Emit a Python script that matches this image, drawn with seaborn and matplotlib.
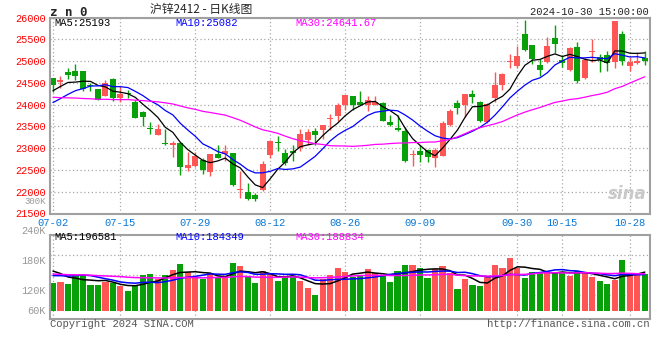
import numpy as np
import pandas as pd
import matplotlib
matplotlib.use("Agg")
import matplotlib.pyplot as plt
import matplotlib.transforms as mtransforms
import seaborn as sns

sns.set_theme(style="white")
plt.rcParams['font.family'] = ['Liberation Mono', 'DejaVu Sans Mono']

# trading days 2024-07-02 .. 2024-10-30 (SHFE holidays removed)
holidays = ['2024-09-16', '2024-09-17', '2024-10-01', '2024-10-02', '2024-10-03',
            '2024-10-04', '2024-10-07']
dates = pd.bdate_range('2024-07-02', '2024-10-30', freq='C', holidays=holidays)

opens = [24610, 24512, 24741, 24779, 24764, 24443, 24352, 24207, 24596, 24154,
         24260, 24062, 23825, 23460, 23315, 23124, 23063, 23116, 22551, 22590,
         22727, 22452, 22856, 22856, 22880, 22032, 22002, 21925, 22040, 22841,
         23154, 22895, 22933, 23009, 23200, 23406, 23429, 23665, 23734, 24001,
         24192, 24062, 24001, 24001, 24039, 23605, 23467, 23391, 22841, 22933,
         22963, 22765, 22818, 23543, 24039, 23986, 24245, 24062, 23605, 24154,
         24444, 24985, 24901, 25634, 25375, 24916, 24993, 25527, 25031, 24787,
         25336, 24611, 25207, 25092, 25145, 24978, 25626, 24901, 24955, 25085]
highs = [24625, 24650, 24840, 24940, 24770, 24497, 24367, 24566, 24611, 24420,
         24340, 24115, 23848, 23605, 23558, 23452, 23162, 23140, 22910, 22918,
         22765, 22856, 23063, 23063, 22895, 22475, 22208, 21978, 22704, 23200,
         23284, 22986, 23085, 23452, 23452, 23467, 23543, 23787, 24039, 24230,
         24207, 24306, 24192, 24192, 24062, 23773, 23773, 23482, 22948, 23063,
         22986, 23009, 23635, 23902, 24116, 24245, 24344, 24093, 24039, 24749,
         24726, 25161, 25359, 25940, 25375, 25046, 25550, 25840, 25145, 25336,
         25436, 25069, 25512, 25161, 25245, 25924, 25695, 25108, 25222, 25237]
lows = [24290, 24382, 24596, 24558, 24320, 24320, 24100, 24192, 24093, 24062,
        24150, 23688, 23520, 23330, 23315, 23085, 22795, 22384, 22475, 22566,
        22414, 22361, 22765, 22704, 22132, 21865, 21811, 21788, 22017, 22780,
        22933, 22613, 22704, 22933, 23070, 23078, 23223, 23429, 23635, 23886,
        23886, 24001, 23848, 23986, 23620, 23505, 23391, 22681, 22590, 22681,
        22681, 22567, 22818, 23513, 23787, 23711, 24039, 23605, 23582, 24062,
        24345, 24840, 24840, 25230, 24932, 24650, 24970, 25199, 24878, 24764,
        24497, 24596, 24993, 24749, 24764, 24855, 24917, 24764, 24932, 24917]
closes = [24443, 24573, 24672, 24650, 24367, 24420, 24115, 24497, 24154, 24253,
          24245, 23688, 23711, 23445, 23452, 23101, 23116, 22566, 22605, 22818,
          22498, 22856, 22765, 22933, 22147, 22040, 21827, 21841, 22627, 23162,
          23131, 22651, 22895, 23337, 23368, 23300, 23543, 23673, 24001, 24215,
          23986, 24001, 24115, 24062, 23620, 23528, 23414, 22704, 22845, 22841,
          22795, 22948, 23582, 23848, 23925, 24245, 24169, 23620, 24016, 24459,
          24703, 24993, 25123, 25253, 25046, 24787, 25352, 25397, 24955, 25298,
          24535, 25031, 25245, 25031, 24955, 25924, 25016, 24993, 25008, 25016]
# closes of the 29 sessions before 07-02 (estimated from where the MA lines start)
prev_closes = [24900, 24800, 24750, 24700, 24600, 24500, 24450, 24368, 24300, 24200,
               24100, 24000, 23900, 23850, 23800, 23900, 23950, 23900, 23850, 23862,
               23650, 23700, 23800, 23900, 23830, 24083, 24212, 24610, 24262]

volumes = [143, 148, 138, 182, 182, 132, 132, 145, 140, 127,
           101, 127, 182, 187, 162, 182, 207, 238, 196, 171,
           160, 194, 167, 177, 244, 228, 177, 143, 202, 194,
           152, 171, 171, 152, 118, 81, 160, 182, 219, 199,
           174, 182, 211, 194, 182, 148, 202, 233, 233, 219,
           168, 213, 229, 191, 111, 162, 132, 128, 177, 233,
           219, 270, 219, 168, 199, 199, 196, 199, 194, 179,
           202, 196, 174, 152, 137, 157, 258, 194, 187, 187]
prev_volumes = [200, 185, 210, 175, 190, 205, 180, 195, 170, 200,
                185, 190, 210, 180, 195, 175, 190, 200, 185, 200,
                150, 160, 155, 160, 155, 210, 225, 212, 220]

tick_dates = ['07-02', '07-15', '07-29', '08-12', '08-26', '09-09', '09-30', '10-15', '10-28']
price_ticks = [21500, 22000, 22500, 23000, 23500, 24000, 24500, 25000, 25500, 26000]
ma_labels = ['MA5:25193', 'MA10:25082', 'MA30:24641.67']
vol_ma_labels = ['MA5:196581', 'MA10:184349', 'MA30:188834']
vol_labels = ['240K', '180K', '120K', '60K']

df = pd.DataFrame({'date': dates, 'open': opens, 'high': highs, 'low': lows,
                   'close': closes, 'volume': np.array(volumes) * 1000})
df['x'] = np.arange(len(df))
n_prev = len(prev_closes)
all_close = pd.Series(prev_closes + closes)
all_vol = pd.Series(prev_volumes + volumes) * 1000
for w in (5, 10, 30):
    df[f'ma{w}'] = all_close.rolling(w).mean().values[n_prev:]
    df[f'vma{w}'] = all_vol.rolling(w).mean().values[n_prev:]

RED = '#ff5555'
GREEN = '#08a008'
up = df['close'] >= df['open']
colors = np.where(up, RED, GREEN)
ma_colors = ['black', '#0000ff', '#ff00ff']
grid_kw = dict(color='#a8a8a8', linestyle=(0, (1, 2)), linewidth=0.9)

fig = plt.figure(figsize=(6.6, 3.6), dpi=100)
fig.patch.set_facecolor('white')
ax = fig.add_axes([50 / 660, 1 - 213.5 / 360, 600 / 660, 195.8 / 360])
axv = fig.add_axes([50 / 660, 1 - 319 / 360, 600 / 660, 84 / 360])

# candles
ax.vlines(df['x'], df['low'], df['high'], colors=colors, linewidth=1)
body_low = np.minimum(df['open'], df['close'])
body_h = np.maximum(np.abs(df['close'] - df['open']), 22)
ax.bar(df['x'], body_h, bottom=body_low, width=0.8, color=colors, linewidth=0)
for w, c in zip((5, 10, 30), ma_colors):
    sns.lineplot(data=df, x='x', y=f'ma{w}', ax=ax, color=c, linewidth=0.9)

# volume
axv.bar(df['x'], df['volume'], width=0.82, color=colors, linewidth=0)
for w, c in zip((5, 10, 30), ma_colors):
    sns.lineplot(data=df, x='x', y=f'vma{w}', ax=axv, color=c, linewidth=1.1)

tick_pos = [int(df.index[df['date'].dt.strftime('%m-%d') == d][0]) for d in tick_dates]
for a in (ax, axv):
    a.set_xlim(-0.4, 79.7)
    a.set_xticks(tick_pos)
    a.grid(True, **grid_kw)
    a.set_xlabel('')
    a.set_ylabel('')
    for s in a.spines.values():
        s.set_color('#a0a0a0')
        s.set_linewidth(1.5)
    a.tick_params(length=0)

ax.set_ylim(21500, 26000)
ax.set_yticks(price_ticks)
ax.set_yticklabels([str(p) for p in price_ticks], color='#ff0000', fontsize=7.4)
# labels sit a little above their grid lines, as in the Sina chart
shift = mtransforms.ScaledTranslation(0, 3 / 100, fig.dpi_scale_trans)
for lab in ax.get_yticklabels():
    lab.set_transform(lab.get_transform() + shift)
ax.set_xticklabels(tick_dates, color='#0a78d6', fontsize=7.6)
ax.tick_params(axis='x', pad=3)
ax.tick_params(axis='y', pad=3)

axv.set_ylim(-40500, 384600)
axv.set_yticks([81000, 182000, 283000])
axv.set_yticklabels([])
axv.set_xticklabels([])

# legends inside panels
for lab, c, px in zip(ma_labels, ma_colors, (54, 175, 295)):
    fig.text(px / 660, 1 - 23 / 360, lab, color=c, fontsize=7.6, va='center')
for lab, c, px in zip(vol_ma_labels, ma_colors, (54, 175, 295)):
    fig.text(px / 660, 1 - 237 / 360, lab, color=c, fontsize=7.6, va='center')

for lab, py in zip(vol_labels, (231, 261, 291, 311)):
    fig.text(46 / 660, 1 - py / 360, lab, color='#999999', fontsize=7.4, ha='right', va='center')
fig.text(46 / 660, 1 - 202 / 360, '300K', color='#999999', fontsize=6.5, ha='right', va='center')

# header
fig.text(50 / 660, 1 - 12 / 360, 'z n 0', fontsize=9, fontweight='bold', va='center',
         family=['DejaVu Sans Mono'])
fig.text(201 / 660, 1 - 10 / 360, '沪锌2412 - 日K线图', fontsize=8.5, ha='center', va='center',
         family=['Noto Sans CJK SC', 'DejaVu Sans'])
fig.text(649 / 660, 1 - 12 / 360, '2024-10-30 15:00:00', fontsize=7.6, ha='right', va='center')

# footer
fig.text(50 / 660, 1 - 324 / 360, 'Copyright 2024 SINA.COM', fontsize=7.6, color='#555555', va='center')
fig.text(649 / 660, 1 - 324 / 360, 'http://finance.sina.com.cn', fontsize=7.6, color='#555555',
         ha='right', va='center')

# watermark
ax.text(0.995, 0.1, 'sina', transform=ax.transAxes, fontsize=12, fontweight='bold',
        style='italic', color='#c8c8c8', ha='right', va='center', family=['DejaVu Sans'])

fig.savefig('out.png', dpi=100)
